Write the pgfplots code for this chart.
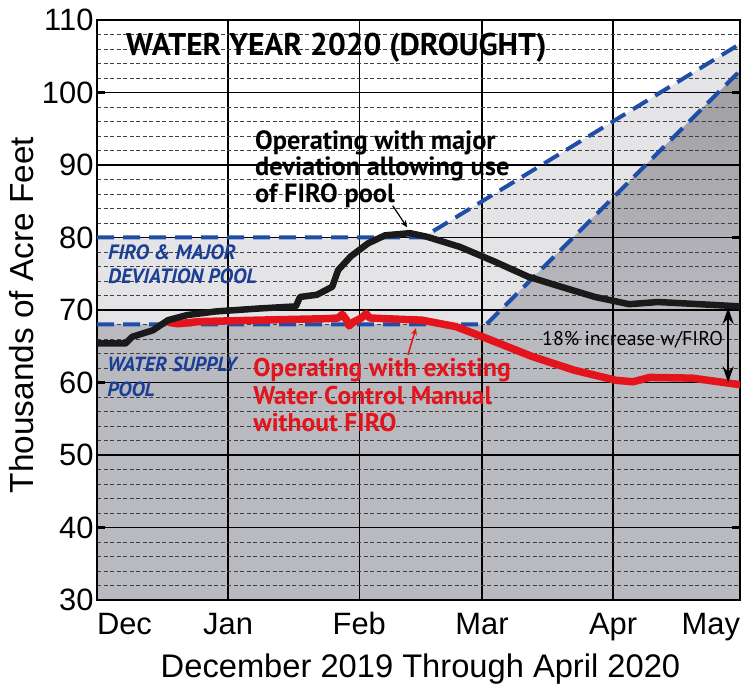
\documentclass[border=0pt]{standalone}
\usepackage{fontspec}
\setmainfont{Liberation Sans}
\newfontfamily\ann{PT Sans}
\usepackage{pgfplots}
\pgfplotsset{compat=1.18}
\usetikzlibrary{arrows.meta}
\definecolor{lightpool}{HTML}{E4E4E6}
\definecolor{midpool}{HTML}{B9B9C0}
\definecolor{darkpool}{HTML}{9E9EA2}
\definecolor{bluedash}{HTML}{1F4EA8}
\definecolor{redline}{HTML}{E3141B}
\definecolor{bluetext}{HTML}{1B3F94}
\definecolor{blackline}{HTML}{1A1A1A}
\begin{document}
\begin{tikzpicture}
\begin{axis}[
  name=ax, set layers,
  scale only axis, width=643bp, height=580bp,
  xmin=0, xmax=152, ymin=30, ymax=110,
  xtick={0,31,62,91,122,152},
  xticklabels={\makebox[0pt][l]{Dec},Jan,Feb,Mar,Apr,\makebox[0pt][r]{May}},
  ytick={30,40,...,110},
  minor ytick={32,34,...,108},
  xmajorgrids, ymajorgrids, yminorgrids,
  major grid style={black, line width=1.4bp},
  minor grid style={black!75, line width=0.8bp, dash pattern=on 4bp off 2.5bp},
  axis line style={black, line width=2bp},
  xtick style={draw=none},
  ytick style={black, line width=2.5bp},
  minor tick length=0pt,
  major tick length=8bp,
  tick align=inside,
  tick label style={font=\fontsize{31}{31}\selectfont, /pgf/number format/assume math mode=true},
  xticklabel style={anchor=base, yshift=-35bp},
]
% pools
\addplot[on layer=axis background, fill=lightpool, draw=none] coordinates {(0,30)(0,80)(77,80)(152,106.7)(152,30)} -- cycle;
\addplot[on layer=axis background, fill=midpool, draw=none] coordinates {(0,30)(0,68)(92,68)(152,103)(152,30)} -- cycle;
\addplot[on layer=axis background, draw=none, top color=darkpool, bottom color=midpool] coordinates {(92,68)(152,103)(152,68)} -- cycle;
% pool boundaries
\addplot[bluedash, line width=4bp, dash pattern=on 17bp off 9bp] coordinates {(0,80)(77,80)(152,106.7)};
\addplot[bluedash, line width=4bp, dash pattern=on 17bp off 9bp] coordinates {(0,68)(92,68)(152,103)};
% existing manual
\addplot[redline, line width=7.5bp, line join=round, line cap=round] table {
17 68.3
19.1 68.1
24.1 68.4
38.1 68.6
54.1 68.8
57.0 68.9
58.0 69.4
59.0 68.6
59.6 67.8
60.5 68.3
62.5 68.9
63.6 69.5
64.5 68.9
68.1 68.8
76.8 68.6
84.9 67.7
92.9 65.9
102.8 63.6
112.8 61.7
122.7 60.3
126.7 60.1
130.7 60.7
140.7 60.6
152 59.7
};
% major deviation
\addplot[blackline, line width=6.5bp, line join=round, line cap=round] table {
0 65.4
6.8 65.4
8.3 66.3
13.2 67.2
16.8 68.6
21.3 69.3
28.1 69.8
38.1 70.2
47.0 70.5
48.0 71.8
52.0 72.1
55.6 73.2
57.0 75.5
60.0 77.4
64.1 79.2
68.1 80.3
74.0 80.6
78.0 80.1
85.8 78.7
93.9 76.7
101.9 74.6
109.7 73.2
117.7 71.8
125.8 70.8
132.6 71.1
142.5 70.8
152 70.5
};
% annotations
\node[anchor=base west, inner sep=0pt, font=\ann\bfseries\fontsize{31.5}{33}\selectfont] at (axis cs:6.86,105.17) {WATER YEAR 2020 (DROUGHT)};
\node[anchor=base west, inner sep=0pt, font=\ann\bfseries\fontsize{26.5}{28}\selectfont] at (axis cs:37.35,92.07) {Operating with major};
\node[anchor=base west, inner sep=0pt, font=\ann\bfseries\fontsize{26.5}{28}\selectfont] at (axis cs:37.35,88.62) {deviation allowing use};
\node[anchor=base west, inner sep=0pt, font=\ann\bfseries\fontsize{26.5}{28}\selectfont] at (axis cs:37.35,84.76) {of FIRO pool};
\draw[-{Stealth[length=7bp,width=6bp]}, line width=1.2bp, black] (axis cs:69.9,84.4) -- (axis cs:73.3,81.4);
\node[anchor=base west, inner sep=0pt, text=redline, font=\ann\bfseries\fontsize{25.7}{27}\selectfont] at (axis cs:36.9,60.8) {Operating with existing};
\node[anchor=base west, inner sep=0pt, text=redline, font=\ann\bfseries\fontsize{25.7}{27}\selectfont] at (axis cs:36.9,56.9) {Water Control Manual};
\node[anchor=base west, inner sep=0pt, text=redline, font=\ann\bfseries\fontsize{25.7}{27}\selectfont] at (axis cs:36.9,53.2) {without FIRO};
\draw[-{Stealth[length=7bp,width=6bp]}, line width=1.5bp, redline] (axis cs:73.5,63.8) -- (axis cs:75.4,67.5);
\node[anchor=base west, inner sep=0pt, text=bluetext, font=\ann\bfseries\itshape\fontsize{20.8}{22}\selectfont] at (axis cs:2.6,76.9) {FIRO \& MAJOR};
\node[anchor=base west, inner sep=0pt, text=bluetext, font=\ann\bfseries\itshape\fontsize{20.8}{22}\selectfont] at (axis cs:2.6,73.6) {DEVIATION POOL};
\node[anchor=base west, inner sep=0pt, text=bluetext, font=\ann\bfseries\itshape\fontsize{20.5}{22}\selectfont] at (axis cs:2.4,61.5) {WATER SUPPLY};
\node[anchor=base west, inner sep=0pt, text=bluetext, font=\ann\bfseries\itshape\fontsize{20.5}{22}\selectfont] at (axis cs:2.4,58.0) {POOL};
\node[anchor=base east, inner sep=0pt, font=\ann\fontsize{20}{21}\selectfont] at (axis cs:148,65.17) {18\% increase w/FIRO};
\draw[{Stealth[length=16bp,width=11bp]}-{Stealth[length=16bp,width=11bp]}, line width=2.5bp, black] (axis cs:149.2,70.3) -- (axis cs:149.2,60.0);
\end{axis}
\node[rotate=90, anchor=base, font=\fontsize{33.5}{33}\selectfont] at ([xshift=-63bp,yshift=-5bp]ax.west) {Thousands of Acre Feet};
\node[anchor=base, font=\fontsize{32.8}{33}\selectfont] at ([xshift=2bp,yshift=-78bp]ax.south) {December 2019 Through April 2020};
\path (ax.south west) ++(-97bp,-85bp) rectangle ++(746bp,685bp);
\end{tikzpicture}
\end{document}
